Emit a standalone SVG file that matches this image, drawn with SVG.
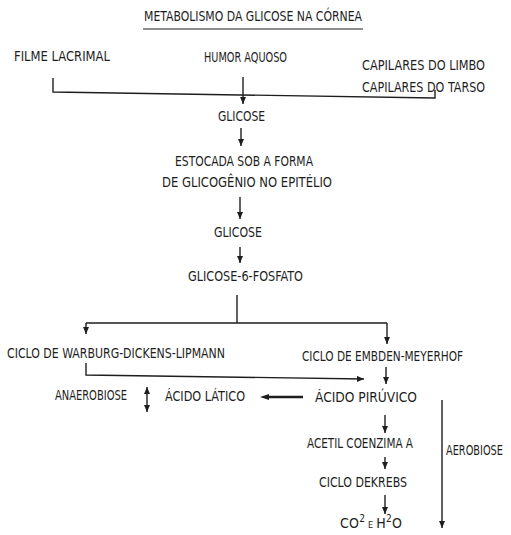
<svg xmlns="http://www.w3.org/2000/svg" width="511" height="535" viewBox="0 0 511 535">
<style>
text{font-family:"DejaVu Sans Condensed","Liberation Sans Narrow","DejaVu Sans",sans-serif;font-size:14px;fill:#1e1e1e}
.ln{fill:none;stroke:#1e1e1e;stroke-width:1.4}
.ar{marker-end:url(#ah)}
</style>
<defs>
<marker id="ah" markerUnits="userSpaceOnUse" markerWidth="8" markerHeight="8" refX="7" refY="3" orient="auto">
<path d="M0,0 L7,3 L0,6 z" fill="#1e1e1e"/>
</marker>
<marker id="ahs" markerUnits="userSpaceOnUse" markerWidth="8" markerHeight="8" refX="0" refY="3" orient="auto">
<path d="M7,0 L0,3 L7,6 z" fill="#1e1e1e"/>
</marker>
</defs>
<g id="title">
<text x="144" y="21" textLength="218" lengthAdjust="spacingAndGlyphs">METABOLISMO DA GLICOSE NA CÓRNEA</text>
<line x1="143" y1="29" x2="363" y2="29" stroke="#1e1e1e" stroke-width="1"/>
</g>
<g id="filme"><text x="14" y="61" textLength="96" lengthAdjust="spacingAndGlyphs">FILME LACRIMAL</text></g>
<g id="humor"><text x="204" y="62" textLength="83" lengthAdjust="spacingAndGlyphs">HUMOR AQUOSO</text></g>
<g id="capilares">
<text x="362" y="70" textLength="123" lengthAdjust="spacingAndGlyphs">CAPILARES DO LIMBO</text>
<text x="362" y="92" textLength="123" lengthAdjust="spacingAndGlyphs">CAPILARES DO TARSO</text>
</g>
<g id="glicose1"><text x="218" y="121" textLength="47" lengthAdjust="spacingAndGlyphs">GLICOSE</text></g>
<g id="estocada">
<text x="175" y="166" textLength="138" lengthAdjust="spacingAndGlyphs">ESTOCADA SOB A FORMA</text>
<text x="162" y="187" textLength="170" lengthAdjust="spacingAndGlyphs">DE GLICOGÊNIO NO EPITÉLIO</text>
</g>
<g id="glicose2"><text x="214" y="237" textLength="48" lengthAdjust="spacingAndGlyphs">GLICOSE</text></g>
<g id="g6p"><text x="188" y="281" textLength="115" lengthAdjust="spacingAndGlyphs">GLICOSE-6-FOSFATO</text></g>
<g id="warburg"><text x="7" y="358" textLength="218" lengthAdjust="spacingAndGlyphs">CICLO DE WARBURG-DICKENS-LIPMANN</text></g>
<g id="embden"><text x="302" y="361" textLength="161" lengthAdjust="spacingAndGlyphs">CICLO DE EMBDEN-MEYERHOF</text></g>
<g id="anaerobiose"><text x="55" y="400" textLength="72" lengthAdjust="spacingAndGlyphs">ANAEROBIOSE</text></g>
<g id="latico"><text x="165" y="401" textLength="80" lengthAdjust="spacingAndGlyphs">ÁCIDO LÁTICO</text></g>
<g id="piruvico"><text x="315" y="402" textLength="102" lengthAdjust="spacingAndGlyphs">ÁCIDO PIRÚVICO</text></g>
<g id="acetil"><text x="307" y="448" textLength="106" lengthAdjust="spacingAndGlyphs">ACETIL COENZIMA A</text></g>
<g id="krebs"><text x="319" y="487" textLength="88" lengthAdjust="spacingAndGlyphs">CICLO DEKREBS</text></g>
<g id="co2"><text x="340" y="528" textLength="62" lengthAdjust="spacing">CO<tspan dy="-6" font-size="10">2</tspan><tspan dy="6" font-size="9"> E </tspan>H<tspan dy="-6" font-size="10">2</tspan><tspan dy="6">O</tspan></text></g>
<g id="aerobiose"><text x="446" y="455" font-size="12" textLength="57" lengthAdjust="spacingAndGlyphs">AEROBIOSE</text></g>
<g id="connectors">
<path class="ln" d="M53,78 L53,92 L435,98 L435,90"/>
<path class="ln ar" d="M243,77 L243,104"/>
<path class="ln ar" d="M241,128 L241,146"/>
<path class="ln ar" d="M240,197 L240,219"/>
<path class="ln ar" d="M240,247 L240,263"/>
<path class="ln" d="M237,295 L237,323 M86,323 L387,323"/>
<path class="ln ar" d="M86,323 L86,334"/>
<path class="ln ar" d="M387,323 L387,344"/>
<path class="ln ar" d="M86,363 L86,375 L364,379"/>
<path class="ln ar" d="M386,367 L386,384"/>
<path fill="none" stroke="#1e1e1e" stroke-width="2.6" d="M303,397 L266,397"/>
<path fill="#1e1e1e" d="M260,397 L269,394 L269,400 z"/>
<path class="ln" marker-start="url(#ahs)" marker-end="url(#ah)" d="M147,387 L147,412"/>
<path class="ln ar" d="M385,415 L385,433"/>
<path class="ln ar" d="M385,457 L385,469"/>
<path class="ln ar" d="M385,495 L385,514"/>
<path class="ln ar" d="M442,400 L442,528"/>
</g>
</svg>
